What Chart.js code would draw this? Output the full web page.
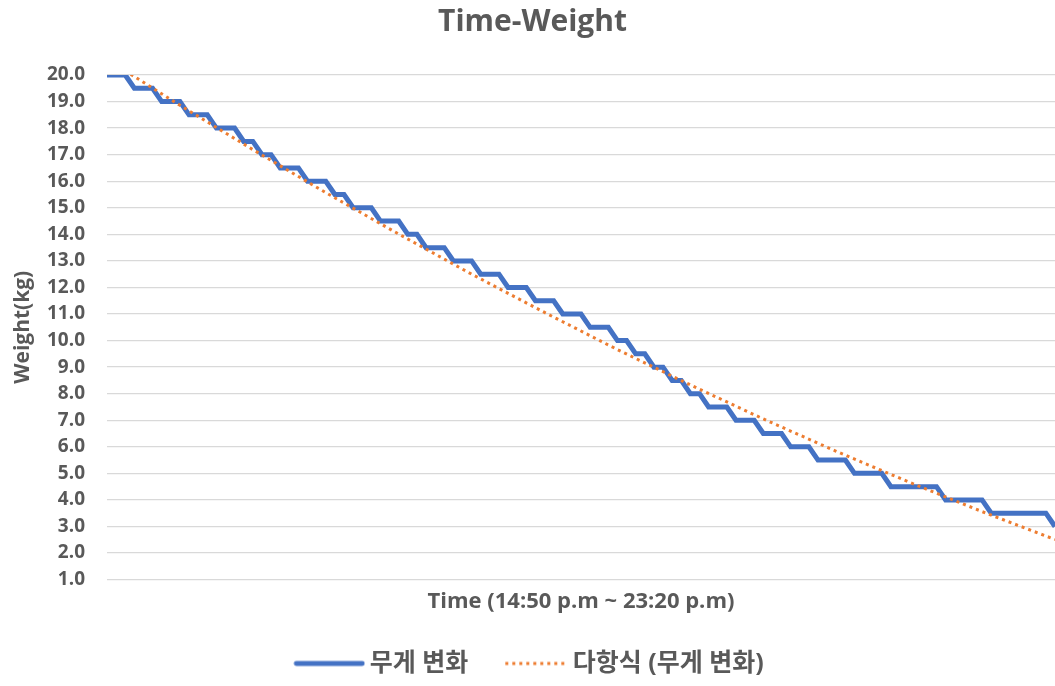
<!DOCTYPE html>
<html lang="ko">
<head>
<meta charset="utf-8">
<title>Time-Weight</title>
<script src="https://cdn.jsdelivr.net/npm/chart.js@4.4.1/dist/chart.umd.min.js"></script>
<style>
  html, body { margin: 0; padding: 0; background: #ffffff; }
  #wrap { width: 1055px; height: 686px; position: relative; }
</style>
</head>
<body>
<div id="wrap"><canvas id="chart"></canvas></div>
<script>
// Weight readings (kg), one per reading from 14:50 to 23:20
const weights = [
  20, 20, 20, 19.5, 19.5, 19.5, 19, 19, 19, 18.5, 18.5, 18.5,
  18, 18, 18, 17.5, 17.5, 17, 17, 16.5, 16.5, 16.5, 16, 16, 16,
  15.5, 15.5, 15, 15, 15, 14.5, 14.5, 14.5, 14, 14,
  13.5, 13.5, 13.5, 13, 13, 13, 12.5, 12.5, 12.5, 12, 12, 12,
  11.5, 11.5, 11.5, 11, 11, 11, 10.5, 10.5, 10.5,
  10, 10, 9.5, 9.5, 9, 9, 8.5, 8.5, 8, 8,
  7.5, 7.5, 7.5, 7, 7, 7, 6.5, 6.5, 6.5, 6, 6, 6,
  5.5, 5.5, 5.5, 5.5, 5, 5, 5, 5,
  4.5, 4.5, 4.5, 4.5, 4.5, 4.5, 4, 4, 4, 4, 4,
  3.5, 3.5, 3.5, 3.5, 3.5, 3.5, 3.5, 3
];

// Polynomial trend line, sampled every 8 readings
const trendIndex = [0, 8, 16, 24, 32, 40, 48, 56, 64, 72, 80, 88, 96, 104];
const trendValues = [20.59, 18.86, 17.19, 15.57, 14.01, 12.50, 11.06, 9.66, 8.33, 7.05, 5.83, 4.67, 3.56, 2.51];

// Y axis range and tick step
const yMin = 1;
const yMax = 20;
const yTickStep = 1;

const seriesNames = ['무게 변화', '다항식 (무게 변화)'];
const chartTitle = 'Time-Weight';
const xTitle = 'Time (14:50 p.m ~ 23:20 p.m)';
const yTitle = 'Weight(kg)';

const FONT = "'Open Sans', 'Noto Sans CJK KR', sans-serif";
const GREY = '#595959';
const BLUE = '#4472C4';
const ORANGE = '#ED7D31';

const weightPoints = weights.map((w, i) => ({ x: i, y: w }));
const trendPoints = trendIndex.map((x, k) => ({ x: x, y: trendValues[k] }));

// Legend swatches: a thick solid line and a dotted line
function makeSwatch(kind) {
  const c = document.createElement('canvas');
  c.width = 72; c.height = 8;
  const g = c.getContext('2d');
  if (kind === 'solid') {
    g.lineCap = 'round';
    g.strokeStyle = BLUE; g.lineWidth = 4.8;
    g.beginPath(); g.moveTo(3, 4); g.lineTo(69, 4); g.stroke();
  } else {
    g.fillStyle = ORANGE;
    for (let x = 9; x < 70; x += 7) g.fillRect(x, 2.5, 3, 3);
  }
  return c;
}
const swatches = [makeSwatch('solid'), makeSwatch('dotted')];

new Chart(document.getElementById('chart'), {
  type: 'line',
  data: {
    datasets: [
      {
        label: seriesNames[0],
        data: weightPoints,
        borderColor: BLUE,
        backgroundColor: BLUE,
        borderWidth: 5,
        pointRadius: 0,
        tension: 0,
        borderJoinStyle: 'miter',
        order: 2
      },
      {
        label: seriesNames[1],
        data: trendPoints,
        borderColor: ORANGE,
        backgroundColor: ORANGE,
        borderWidth: 3,
        borderDash: [3, 4],
        pointRadius: 0,
        tension: 0,
        order: 1
      }
    ]
  },
  options: {
    responsive: true,
    maintainAspectRatio: false,
    animation: false,
    layout: { padding: { left: 10, right: 0, top: 4, bottom: 0 } },
    plugins: {
      title: {
        display: true,
        text: chartTitle,
        color: GREY,
        font: { family: FONT, size: 30, weight: 'bold' },
        padding: { top: 0, bottom: 35 }
      },
      legend: {
        display: true,
        position: 'bottom',
        labels: {
          color: GREY,
          font: { family: FONT, size: 25, weight: 'bold' },
          usePointStyle: true,
          pointStyleWidth: 56,
          padding: 36,
          sort: (a, b) => a.datasetIndex - b.datasetIndex,
          generateLabels: (chart) => {
            const items = Chart.defaults.plugins.legend.labels.generateLabels(chart);
            items.forEach((it) => { it.pointStyle = swatches[it.datasetIndex]; });
            return items;
          }
        }
      },
      tooltip: { enabled: false }
    },
    scales: {
      x: {
        type: 'linear',
        min: 0,
        max: weights.length - 1,
        grid: { display: false, drawTicks: false },
        border: { display: false },
        ticks: { display: false },
        title: {
          display: true,
          text: xTitle,
          color: GREY,
          font: { family: FONT, size: 22, weight: 'bold' },
          padding: { top: 9, bottom: 0 }
        }
      },
      y: {
        min: yMin,
        max: yMax,
        afterFit: (scale) => { scale.width = 97; },
        grid: { color: '#D9D9D9', lineWidth: 1.3, drawTicks: false },
        border: { display: false },
        ticks: {
          stepSize: yTickStep,
          color: GREY,
          padding: 22,
          font: { family: FONT, size: 19, weight: 'bold' },
          callback: (v) => Number(v).toFixed(1)
        },
        title: {
          display: true,
          text: yTitle,
          color: GREY,
          font: { family: FONT, size: 21, weight: 'bold' },
          padding: { top: 0, bottom: 0 }
        }
      }
    }
  }
});
</script>
</body>
</html>
